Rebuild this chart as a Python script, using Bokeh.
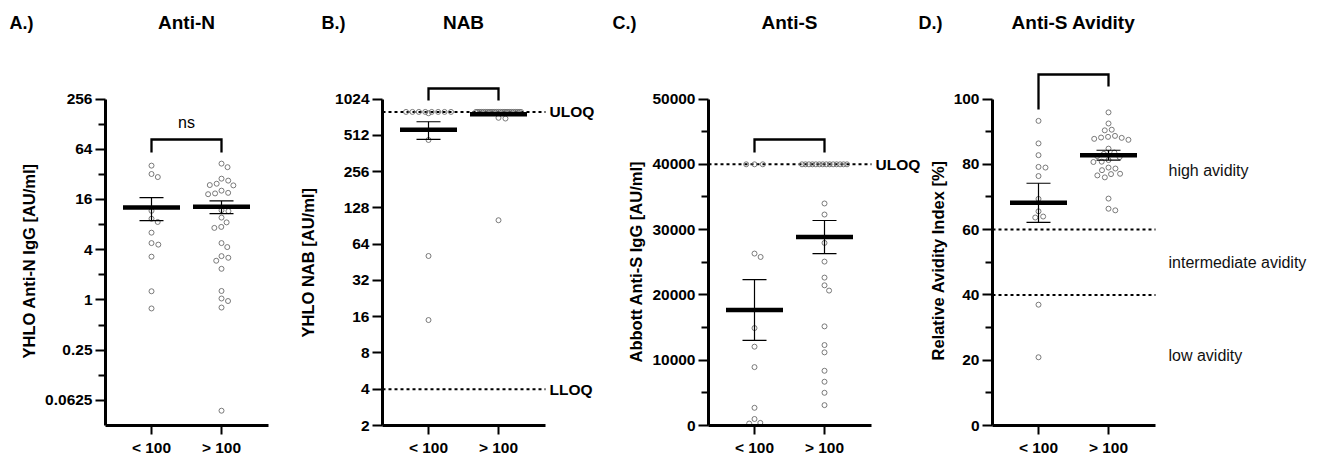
import math
from collections import Counter

from bokeh.plotting import figure
from bokeh.models import Range1d, FixedTicker, Label, Title
from bokeh.layouts import row, column
from bokeh.core.properties import value
from bokeh.embed import file_html
from bokeh.resources import INLINE

# ------------------------------------------------------------------ data
categories = ["< 100", "> 100"]
panel_letters = ["A.)", "B.)", "C.)", "D.)"]
panel_titles = ["Anti-N", "NAB", "Anti-S", "Anti-S Avidity"]

# A.) Anti-N  (YHLO Anti-N IgG, AU/ml)
anti_n_low = [40.7, 32.3, 29.7, 11.7, 9.4, 8.6, 6.4, 4.8, 4.6, 3.3, 1.27, 0.79]
anti_n_high = [43, 39, 28.4, 26.9, 24.7, 23.6, 23.8, 20.4, 18.9, 18.5, 19.2,
               11.9, 11.6, 9.7, 8.5, 7.3, 7.5, 4.8, 4.3, 3.2, 2.95, 3.35, 2.36,
               1.28, 0.97, 1.04, 0.81, 0.047]
anti_n_mean = [12.85, 13.1]
anti_n_sem = [3.95, 2.25]
anti_n_ticks = [0.0625, 0.25, 1, 4, 16, 64, 256]
anti_n_tick_labels = ["0.0625", "0.25", "1", "4", "16", "64", "256"]
anti_n_minor = [0.125, 0.5, 2, 8, 32, 128]

# B.) NAB (YHLO NAB, AU/ml)
nab_low = [800] * 8 + [780, 468, 51, 15]
nab_high = [800] * 25 + [715, 705, 101]
nab_mean = [568, 765]
nab_sem = [95, 18]
nab_ticks = [2, 4, 8, 16, 32, 64, 128, 256, 512, 1024]
nab_tick_labels = ["2", "4", "8", "16", "32", "64", "128", "256", "512", "1024"]
nab_uloq = 800
nab_lloq = 4

# C.) Anti-S (Abbott Anti-S IgG, AU/ml)
anti_s_low = [40000] * 3 + [26330, 25810, 14920, 12070, 8940, 2710, 1000, 400, 300]
anti_s_high = [40000] * 14 + [34000, 32310, 27960, 25100, 22650, 21470, 20660,
                              15180, 12320, 11200, 8380, 6700, 5010, 3120]
anti_s_mean = [17690, 28865]
anti_s_sem = [4655, 2530]
anti_s_ticks = [0, 10000, 20000, 30000, 40000, 50000]
anti_s_tick_labels = ["0", "10000", "20000", "30000", "40000", "50000"]
anti_s_minor = [5000, 15000, 25000, 35000, 45000]
anti_s_uloq = 40000

# D.) Anti-S Avidity (Relative Avidity Index, %)
avid_low = [93.3, 86.4, 82.8, 79.2, 79.0, 76.4, 69.4, 65.6, 63.7, 64.0, 37.0, 20.9]
avid_high = [95.9, 92.5, 90.4, 90.6, 88.7, 88.4, 88.2, 88.1, 87.5, 87.8, 84.8,
             83.6, 83.2, 82.5, 82.2, 80.8, 81.3, 80.7, 79.0, 78.2, 78.7, 77.0,
             77.1, 76.0, 76.6, 69.5, 65.9, 66.4]
avid_mean = [68.2, 82.8]
avid_sem = [6.0, 1.5]
avid_ticks = [0, 20, 40, 60, 80, 100]
avid_tick_labels = ["0", "20", "40", "60", "80", "100"]
avid_minor = [10, 30, 50, 70, 90]
avid_thresholds = [60, 40]
avid_zones = ["high avidity", "intermediate avidity", "low avidity"]

# ------------------------------------------------------------------ layout constants (page pixels)
HEADER_H = 44
AX_TOP = 98.5
AX_BOT = 425.0
FRAME_H = int(AX_BOT - HEADER_H)
PX_PER_CAT = 70.0
CAT1_OFF = 46.0
AXIS_LEN_X = 163.0
COLL = 7.0
ROW_STEP = 8.3
ROW_MAX = 45.0
TOTAL_W = 1316

FONT = "Liberation Sans"
PT_COLOR = "#6b6b6b"


def beeswarm(values, to_px):
    n = len(values)
    offs = [None] * n
    for v, c in Counter(values).items():
        if c >= 3:
            idx = [i for i in range(n) if values[i] == v]
            step = min(ROW_STEP, ROW_MAX / (c - 1))
            for j, i in enumerate(idx):
                offs[i] = (j - (c - 1) / 2) * step
    rest = sorted([i for i in range(n) if offs[i] is None], key=lambda i: -values[i])
    placed = []
    for i in rest:
        y = to_px(values[i])
        cands = [0.0]
        for cx, cy in placed:
            dy = abs(y - cy)
            if dy < COLL:
                dx = math.sqrt(COLL ** 2 - dy ** 2)
                cands += [cx + dx, cx - dx]
        cands.sort(key=lambda c: (round(abs(c), 6), -c))
        for c in cands:
            if all((c - cx) ** 2 + (y - cy) ** 2 >= COLL ** 2 - 1e-6 for cx, cy in placed):
                offs[i] = c
                placed.append((c, y))
                break
    return offs


def build(fig_left, frame_left, fig_right, log, lo, hi, ticks, tick_labels, minor,
          ylabel, ylabel_start, ylabel_standoff, groups, means, sems,
          bracket, refs=(), bracket_text=None):
    frame_w = fig_right - frame_left
    x0 = 1 - CAT1_OFF / PX_PER_CAT
    x_axis_end = x0 + AXIS_LEN_X / PX_PER_CAT
    span = AX_BOT - AX_TOP
    if log:
        l0, l1 = math.log2(lo), math.log2(hi)
        ppu = span / (l1 - l0)
        top = 2 ** (l0 + FRAME_H / ppu)

        def to_px(v):
            return (math.log2(v) - l0) * ppu

        def yp(py):
            return 2 ** (l0 + (AX_BOT - py) / ppu)
    else:
        ppu = span / (hi - lo)
        top = lo + FRAME_H / ppu

        def to_px(v):
            return (v - lo) * ppu

        def yp(py):
            return lo + (AX_BOT - py) / ppu

    def xp(px):
        return x0 + (px - frame_left) / PX_PER_CAT

    p = figure(frame_width=int(frame_w), frame_height=FRAME_H,
               x_range=Range1d(x0, x0 + frame_w / PX_PER_CAT),
               y_range=Range1d(lo, top),
               y_axis_type="log" if log else "linear",
               output_backend="svg", toolbar_location=None,
               min_border_left=int(frame_left - fig_left), min_border_right=0,
               min_border_top=0, min_border_bottom=31)
    p.outline_line_color = None
    p.grid.visible = False
    p.background_fill_color = "white"
    p.border_fill_color = "white"

    # y axis
    ya = p.yaxis[0]
    ya.ticker = FixedTicker(ticks=ticks, minor_ticks=minor)
    ya.major_label_overrides = {t: l for t, l in zip(ticks, tick_labels)}
    ya.bounds = (lo, hi)

    # x axis
    xa = p.xaxis[0]
    xa.ticker = FixedTicker(ticks=[1, 2])
    xa.major_label_overrides = {1: categories[0], 2: categories[1]}
    xa.bounds = (x0, x_axis_end)
    xa.minor_tick_line_color = None

    for ax in (xa, ya):
        ax.axis_line_width = 3
        ax.axis_line_color = "black"
        ax.major_tick_line_width = 2
        ax.major_tick_line_color = "black"
        ax.major_tick_in = 0
        ax.major_label_text_font = FONT
        ax.major_label_text_font_style = "bold"
        ax.major_label_text_font_size = "15.5px"
        ax.major_label_text_color = "black"
    ya.major_tick_out = 10
    ya.major_label_standoff = 3
    ya.minor_tick_in = 0
    ya.minor_tick_out = 7
    ya.minor_tick_line_width = 2
    ya.minor_tick_line_color = "black"
    xa.major_tick_out = 9
    xa.major_label_standoff = 4

    # y axis title, centred on the drawn axis
    p.add_layout(Title(text=ylabel, align="left", vertical_align="bottom",
                       offset=AX_BOT - ylabel_start, standoff=ylabel_standoff,
                       text_font=FONT, text_font_style="bold",
                       text_font_size="16.5px", text_color="black"), "left")

    # reference lines
    for v, txt in refs:
        p.segment(x0=x0, x1=x_axis_end, y0=v, y1=v, line_color="black",
                  line_width=2, line_dash="3 3")
        if txt:
            p.add_layout(Label(x=x_axis_end + 4 / PX_PER_CAT, y=v, text=txt,
                               text_align="left", text_baseline="middle",
                               text_font=FONT, text_font_style="bold",
                               text_font_size="15.5px", text_color="black"))

    # points
    for gi, vals in enumerate(groups):
        offs = beeswarm(vals, to_px)
        xs = [gi + 1 + o / PX_PER_CAT for o in offs]
        p.scatter(x=xs, y=vals, marker="circle", size=5, fill_color=None,
                  line_color=PT_COLOR, line_width=0.9)

    # mean +/- SEM
    cx = [1, 2]
    lows = [m - s for m, s in zip(means, sems)]
    highs = [m + s for m, s in zip(means, sems)]
    p.segment(x0=cx, x1=cx, y0=lows, y1=highs, line_color="black", line_width=1.2)
    cap = 12 / PX_PER_CAT
    p.segment(x0=[c - cap for c in cx] * 2, x1=[c + cap for c in cx] * 2,
              y0=lows + highs, y1=lows + highs, line_color="black", line_width=1.2)
    half = 28.5 / PX_PER_CAT
    p.segment(x0=[c - half for c in cx], x1=[c + half for c in cx],
              y0=means, y1=means, line_color="black", line_width=4.5)

    # significance bracket
    bt, bl, br = bracket
    p.line(x=[1, 1, 2, 2], y=[yp(bl), yp(bt), yp(bt), yp(br)], line_color="black",
           line_width=2.3, line_join="miter")
    if bracket_text:
        p.add_layout(Label(x=1.5, y=yp(122), text=bracket_text, text_align="center",
                           text_baseline="middle", text_font=FONT,
                           text_font_size="16px", text_color="black"))
    return p, xp, yp


FIG_EDGES = [0, 270, 600, 921, TOTAL_W]
FRAME_LEFTS = [105, 382, 708, 992]

pA, _, _ = build(FIG_EDGES[0], FRAME_LEFTS[0], FIG_EDGES[1], True, 2 ** -5, 256,
                 anti_n_ticks, anti_n_tick_labels, anti_n_minor,
                 "YHLO Anti-N IgG [AU/ml]", 358, 10,
                 [anti_n_low, anti_n_high], anti_n_mean, anti_n_sem,
                 (139, 152, 152), bracket_text="ns")

pB, _, _ = build(FIG_EDGES[1], FRAME_LEFTS[1], FIG_EDGES[2], True, 2, 1024,
                 nab_ticks, nab_tick_labels, [],
                 "YHLO NAB [AU/ml]", 337, 32,
                 [nab_low, nab_high], nab_mean, nab_sem,
                 (88, 100, 100), refs=[(nab_uloq, "ULOQ"), (nab_lloq, "LLOQ")])

pC, _, _ = build(FIG_EDGES[2], FRAME_LEFTS[2], FIG_EDGES[3], False, 0, 50000,
                 anti_s_ticks, anti_s_tick_labels, anti_s_minor,
                 "Abbott Anti-S IgG [AU/ml]", 362, 10,
                 [anti_s_low, anti_s_high], anti_s_mean, anti_s_sem,
                 (139, 152, 152), refs=[(anti_s_uloq, "ULOQ")])

pD, xpD, ypD = build(FIG_EDGES[3], FRAME_LEFTS[3], FIG_EDGES[4], False, 0, 100,
                     avid_ticks, avid_tick_labels, avid_minor,
                     "Relative Avidity Index [%]", 360, 8,
                     [avid_low, avid_high], avid_mean, avid_sem,
                     (74, 109, 86), refs=[(v, None) for v in avid_thresholds])

for txt, py in zip(avid_zones, [170, 262, 355]):
    pD.add_layout(Label(x=xpD(1168), y=ypD(py), text=txt, text_align="left",
                        text_baseline="middle", text_font=FONT,
                        text_font_size="16px", text_color="#111111"))

# ------------------------------------------------------------------ header (panel letters and titles)
header = figure(width=TOTAL_W, height=HEADER_H, x_range=Range1d(0, TOTAL_W),
                y_range=Range1d(HEADER_H, 0), x_axis_location=None,
                y_axis_location=None, output_backend="svg", toolbar_location=None,
                min_border=0)
header.outline_line_color = None
header.grid.visible = False
letter_x = [9, 321, 612, 918]
title_x = [fl + (1.5 - (1 - CAT1_OFF / PX_PER_CAT)) * PX_PER_CAT for fl in FRAME_LEFTS]
header.text(x=letter_x, y=[22] * 4, text=panel_letters, text_align="left",
            text_baseline="middle", text_font=value(FONT), text_font_style="bold",
            text_font_size=value("18px"), text_color="black")
header.text(x=title_x, y=[22] * 4, text=panel_titles, text_align="center",
            text_baseline="middle", text_font=value(FONT), text_font_style="bold",
            text_font_size=value("19px"), text_color="black")

layout = column(header, row(pA, pB, pC, pD))
open("out.html", "w").write(file_html(layout, INLINE))
